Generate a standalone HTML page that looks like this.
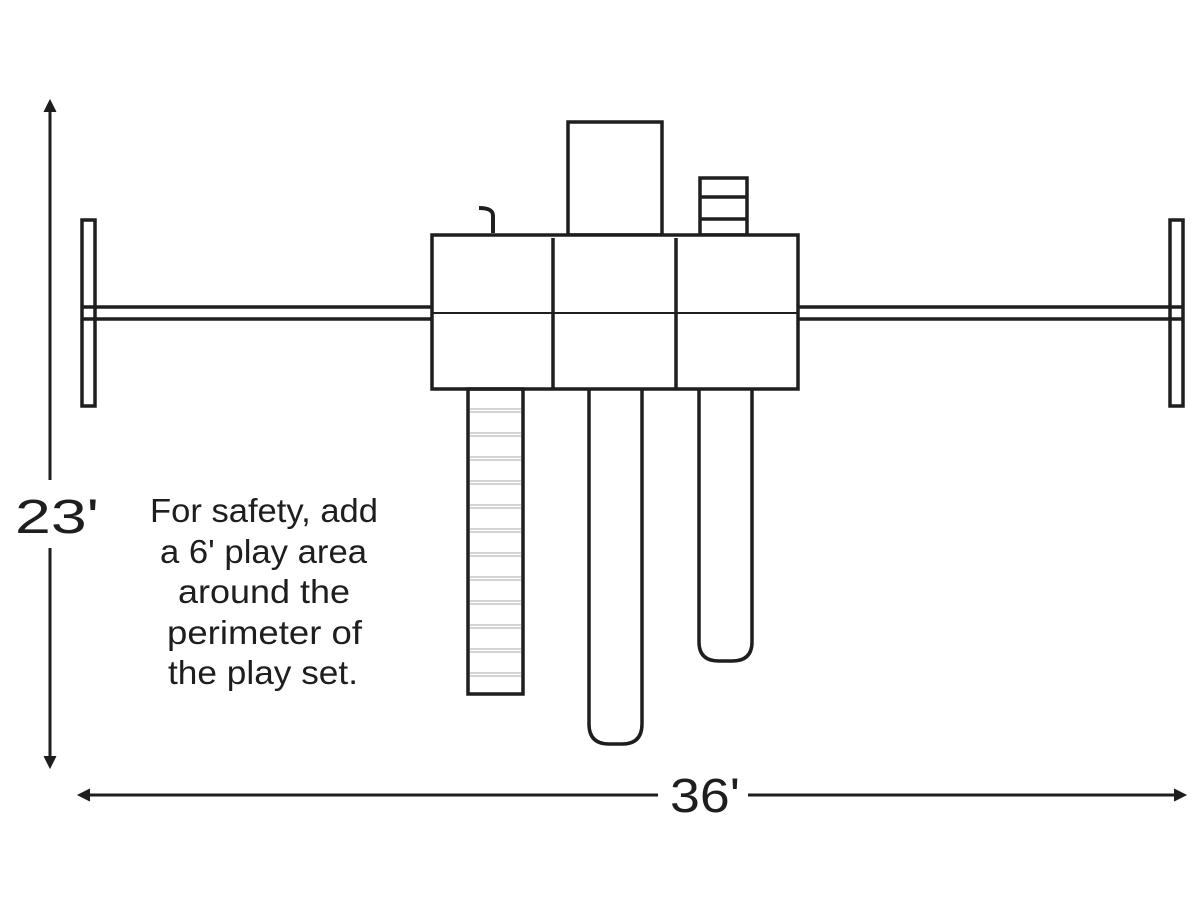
<!DOCTYPE html>
<html><head><meta charset="utf-8"><style>
html,body{margin:0;padding:0;background:#fff;}
svg{display:block;}
text{font-family:"Liberation Sans",sans-serif;fill:#1e1e1e;}
</style></head><body>
<svg width="1200" height="924" viewBox="0 0 1200 924" xmlns="http://www.w3.org/2000/svg">
<g stroke="#1e1e1e" fill="none">
  <line x1="50" y1="104" x2="50" y2="480" stroke-width="3"/>
  <line x1="50" y1="548" x2="50" y2="764" stroke-width="3"/>
  <path d="M44,112 L50,100 L56,112" fill="#1e1e1e" stroke-width="1"/>
  <path d="M44,756 L50,768 L56,756" fill="#1e1e1e" stroke-width="1"/>
  <line x1="82" y1="795" x2="658" y2="795" stroke-width="3"/>
  <line x1="748" y1="795" x2="1182" y2="795" stroke-width="3"/>
  <path d="M90,789 L78,795 L90,801" fill="#1e1e1e" stroke-width="1"/>
  <path d="M1174,789 L1186,795 L1174,801" fill="#1e1e1e" stroke-width="1"/>

  <line x1="88" y1="307" x2="431" y2="307" stroke-width="3.5"/>
  <line x1="88" y1="319" x2="431" y2="319" stroke-width="3.5"/>
  <line x1="799" y1="307" x2="1176" y2="307" stroke-width="3.5"/>
  <line x1="799" y1="319" x2="1176" y2="319" stroke-width="3.5"/>
  <rect x="82" y="220" width="13" height="186" stroke-width="3.5" fill="#fff"/>
  <rect x="1170" y="220" width="13" height="186" stroke-width="3.5" fill="#fff"/>
  <line x1="82" y1="307" x2="95" y2="307" stroke-width="3.5"/>
  <line x1="82" y1="319" x2="95" y2="319" stroke-width="3.5"/>
  <line x1="1170" y1="307" x2="1183" y2="307" stroke-width="3.5"/>
  <line x1="1170" y1="319" x2="1183" y2="319" stroke-width="3.5"/>

  <rect x="568" y="122" width="94" height="113" stroke-width="3.5"/>
  <rect x="700" y="178" width="47" height="57" stroke-width="3.5"/>
  <line x1="700" y1="197" x2="747" y2="197" stroke-width="3.5"/>
  <line x1="700" y1="219" x2="747" y2="219" stroke-width="3.5"/>
  <path d="M479,208 C488,208 493,210 493,216 L493,233" stroke-width="4"/>

  <rect x="432" y="235" width="366" height="154" stroke-width="3.5" fill="#fff"/>
  <line x1="553" y1="238" x2="553" y2="389" stroke-width="3.5"/>
  <line x1="676" y1="238" x2="676" y2="389" stroke-width="3.5"/>
  <line x1="432" y1="313" x2="798" y2="313" stroke-width="2"/>

  <rect x="468" y="389" width="55" height="305" stroke-width="3.5"/>
  <g stroke="#bbb" stroke-width="1.2">
    <line x1="470" y1="409" x2="521" y2="409"/><line x1="470" y1="412" x2="521" y2="412"/>
    <line x1="470" y1="433" x2="521" y2="433"/><line x1="470" y1="436" x2="521" y2="436"/>
    <line x1="470" y1="457" x2="521" y2="457"/><line x1="470" y1="460" x2="521" y2="460"/>
    <line x1="470" y1="481" x2="521" y2="481"/><line x1="470" y1="484" x2="521" y2="484"/>
    <line x1="470" y1="505" x2="521" y2="505"/><line x1="470" y1="508" x2="521" y2="508"/>
    <line x1="470" y1="529" x2="521" y2="529"/><line x1="470" y1="532" x2="521" y2="532"/>
    <line x1="470" y1="553" x2="521" y2="553"/><line x1="470" y1="556" x2="521" y2="556"/>
    <line x1="470" y1="577" x2="521" y2="577"/><line x1="470" y1="580" x2="521" y2="580"/>
    <line x1="470" y1="601" x2="521" y2="601"/><line x1="470" y1="604" x2="521" y2="604"/>
    <line x1="470" y1="625" x2="521" y2="625"/><line x1="470" y1="628" x2="521" y2="628"/>
    <line x1="470" y1="649" x2="521" y2="649"/><line x1="470" y1="652" x2="521" y2="652"/>
    <line x1="470" y1="673" x2="521" y2="673"/><line x1="470" y1="676" x2="521" y2="676"/>
  </g>
  <path d="M589,390 L589,724 Q589,744 609,744 L622,744 Q642,744 642,724 L642,390" stroke-width="3.5"/>
  <path d="M699,390 L699,642 Q699,661 719,661 L732,661 Q752,661 752,642 L752,390" stroke-width="3.5"/>
</g>
<text x="15" y="533" font-size="48" textLength="84" lengthAdjust="spacingAndGlyphs">23'</text>
<text x="670" y="812" font-size="48" textLength="70" lengthAdjust="spacingAndGlyphs">36'</text>
<g font-size="33" lengthAdjust="spacingAndGlyphs">
  <text x="150" y="522" textLength="228" lengthAdjust="spacingAndGlyphs">For safety, add</text>
  <text x="160" y="563" textLength="207" lengthAdjust="spacingAndGlyphs">a 6' play area</text>
  <text x="178" y="603" textLength="172" lengthAdjust="spacingAndGlyphs">around the</text>
  <text x="167" y="644" textLength="195" lengthAdjust="spacingAndGlyphs">perimeter of</text>
  <text x="168" y="684" textLength="190" lengthAdjust="spacingAndGlyphs">the play set.</text>
</g>
</svg>
</body></html>
